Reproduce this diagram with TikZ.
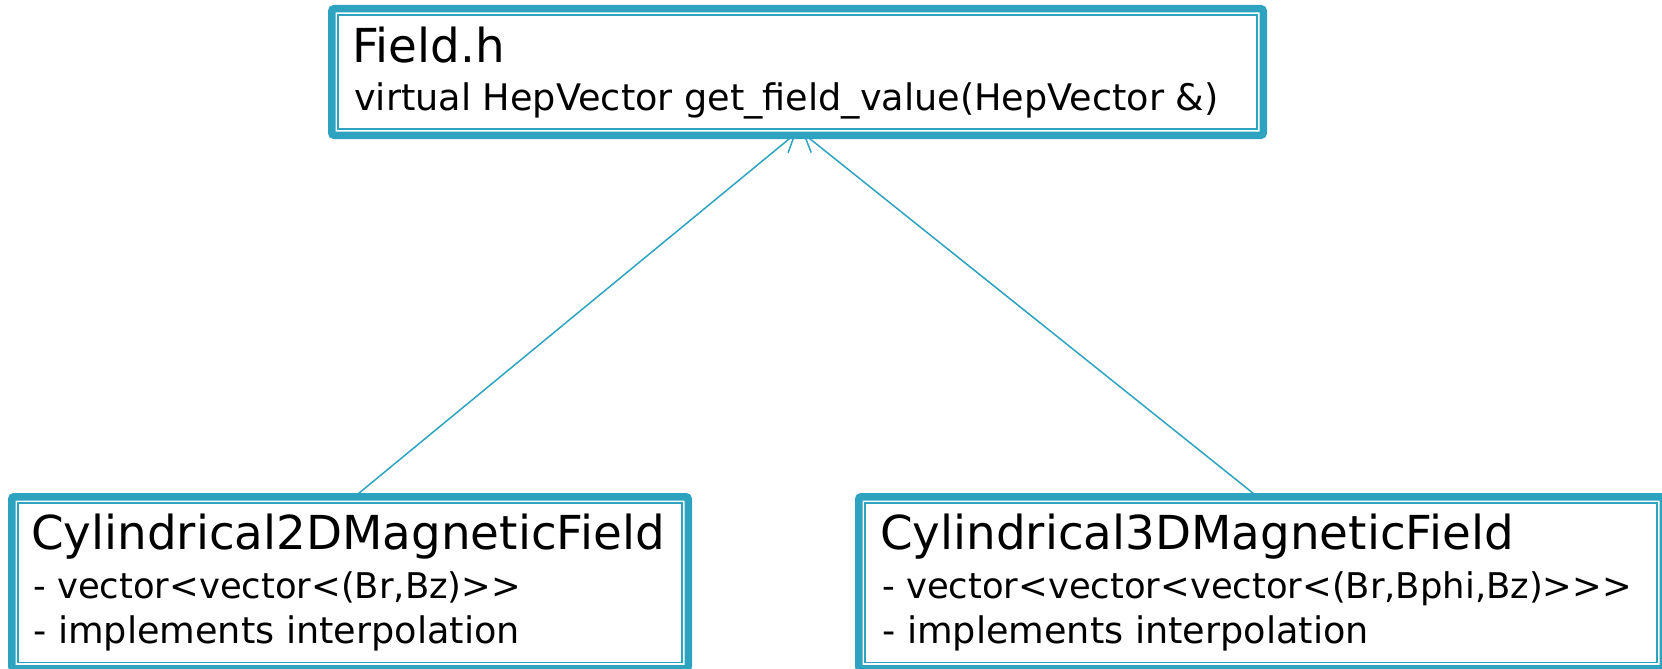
\documentclass[tikz,border=0pt]{standalone}
\usepackage{fontspec}
\setmainfont{DejaVu Sans}
\usetikzlibrary{arrows.meta}
\definecolor{umlblue}{RGB}{46,163,191}
\newcommand\gtsym{>\kern0pt}
\tikzset{
  classbox/.style={draw=umlblue, line width=7.5pt, rounded corners=2.5pt, fill=white,
    rectangle, inner sep=0pt, outer sep=0pt},
  innerframe/.style={draw=umlblue, line width=1.8pt},
  title/.style={anchor=base west, inner sep=0pt, font=\fontsize{46.8}{55}\selectfont},
  member/.style={anchor=base west, inner sep=0pt, font=\fontsize{36.6}{44}\selectfont},
  typemember/.style={member, font=\fontsize{35.4}{44}\selectfont},
  inherit/.style={draw=umlblue, line width=1.5pt,
    -{Straight Barb[length=17pt, width=20pt, line width=1.5pt]}}
}
\begin{document}
\begin{tikzpicture}[x=1pt, y=-1pt]
  \useasboundingbox (0,0) rectangle (1662,669);
  \clip (0,0) rectangle (1662,669);

  % class boxes (thick outer frame)
  \node[classbox, minimum width=931.5pt, minimum height=126.5pt] (field) at (797.5,72) {};
  \node[classbox, minimum width=676.5pt, minimum height=172pt] (cyl2d) at (350,582.75) {};
  \node[classbox, minimum width=804.5pt, minimum height=172pt] (cyl3d) at (1261,582.75) {};

  % thin inner frames
  \foreach \b in {field, cyl2d, cyl3d}
    \draw[innerframe] ([shift={(6.3pt,-6.3pt)}]\b.north west) rectangle ([shift={(-6.3pt,6.3pt)}]\b.south east);

  % Field.h
  \node[title]  (fieldname) at (352,63)  {Field.h};
  \node[member] (fieldop)   at (354,110) {virtual HepVector get\_field\_value(HepVector \&)};

  % Cylindrical2DMagneticField
  \node[title]      (c2name) at (31,549)  {Cylindrical2DMagneticField};
  \node[typemember] (c2m1)   at (33,598)  {- vector<vector<(Br,Bz)\gtsym\gtsym};
  \node[member]     (c2m2)   at (33,643)  {- implements interpolation};

  % Cylindrical3DMagneticField
  \node[title]      (c3name) at (880,549) {Cylindrical3DMagneticField};
  \node[typemember] (c3m1)   at (882,598) {- vector<vector<vector<(Br,Bphi,Bz)\gtsym\gtsym\gtsym};
  \node[member]     (c3m2)   at (882,643) {- implements interpolation};

  % inheritance arrows
  \draw[inherit] ([xshift=7pt, yshift=2pt]cyl2d.north) -- ([xshift=-1.5pt, yshift=2pt]field.south);
  \draw[inherit] ([xshift=-6pt, yshift=2pt]cyl3d.north) -- ([xshift=5.5pt, yshift=2pt]field.south);
  % the frame edge covers the shallow barbs
  \draw[umlblue, line width=7.5pt] ([xshift=-40pt]field.south) -- ([xshift=40pt]field.south);
\end{tikzpicture}
\end{document}
